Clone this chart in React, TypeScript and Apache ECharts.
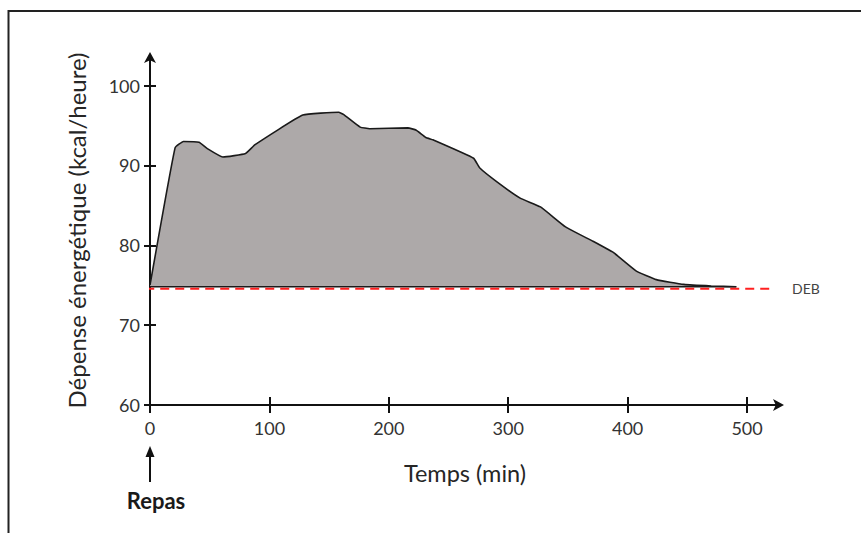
import React, { useEffect, useRef } from "react";
import * as echarts from "echarts";

// Time (min) and energy expenditure (kcal/heure)
const TIME = [0, 21, 28, 41, 48, 61, 80, 88, 128, 158, 162, 176, 184, 216, 223, 231, 237, 271, 276, 290, 310, 327, 348, 371, 388, 407, 424, 447, 470, 491];
const ENERGY = [75.0, 92.2, 93.0, 92.9, 92.1, 91.05, 91.5, 92.6, 96.3, 96.65, 96.4, 94.8, 94.6, 94.7, 94.4, 93.5, 93.2, 90.9, 89.7, 88.0, 85.9, 84.8, 82.3, 80.5, 79.1, 76.8, 75.7, 75.1, 74.9, 74.8];
const BASELINE = 74.8;
const BASELINE_RANGE = [0, 491];
const DEB_VALUE = 74.55;
const DEB_RANGE = [-4, 521];
const X_TICKS = [0, 100, 200, 300, 400, 500];
const Y_TICKS = [60, 70, 80, 90, 100];
const X_MAX = 527.6;
const Y_MIN = 60;
const Y_MAX = 103.7;

const FONT = "Lato";

export default function App() {
  const ref = useRef<HTMLDivElement>(null);
  useEffect(() => {
    if (!ref.current) return;
    const chart = echarts.init(ref.current, null, { renderer: "svg" });
    const data = TIME.map((t, i) => [t, ENERGY[i]]);
    const xCommon = {
      type: "value",
      min: 0,
      max: X_MAX,
      position: "bottom",
      splitLine: { show: false },
    };
    const yCommon = {
      type: "value",
      min: Y_MIN,
      max: Y_MAX,
      position: "left",
      splitLine: { show: false },
    };
    chart.setOption({
      animation: false,
      grid: { left: 150, right: 81, top: 56, bottom: 128, containLabel: false },
      xAxis: [
        {
          ...xCommon,
          name: "Temps (min)",
          nameLocation: "middle",
          nameGap: 56,
          nameTextStyle: { fontFamily: FONT, fontSize: 23.5, color: "#262626" },
          axisLine: {
            show: true,
            lineStyle: { color: "#111", width: 2 },
            symbol: ["none", "arrow"],
            symbolSize: [9, 11],
            symbolOffset: [0, 4],
          },
          axisTick: { show: true, inside: false, length: 8, lineStyle: { color: "#111", width: 2 }, customValues: X_TICKS },
          axisLabel: { show: true, margin: 14, fontFamily: FONT, fontSize: 18, color: "#333", customValues: X_TICKS },
        },
        {
          ...xCommon,
          axisLine: { show: false },
          axisTick: { show: true, inside: true, length: 8, lineStyle: { color: "#111", width: 2 }, customValues: X_TICKS },
          axisLabel: { show: false },
        },
      ],
      yAxis: [
        {
          ...yCommon,
          name: "Dépense énergétique (kcal/heure)",
          nameLocation: "middle",
          nameGap: 62,
          nameTextStyle: { fontFamily: FONT, fontSize: 24, color: "#262626" },
          axisLine: {
            show: true,
            lineStyle: { color: "#111", width: 2 },
            symbol: ["none", "arrow"],
            symbolSize: [9, 11],
            symbolOffset: [0, 4],
          },
          axisTick: { show: true, inside: false, length: 6, lineStyle: { color: "#111", width: 2 }, customValues: Y_TICKS },
          axisLabel: { show: true, margin: 10, fontFamily: FONT, fontSize: 18, color: "#333", customValues: Y_TICKS },
        },
        {
          ...yCommon,
          axisLine: { show: false },
          axisTick: { show: true, inside: true, length: 6, lineStyle: { color: "#111", width: 2 }, customValues: Y_TICKS },
          axisLabel: { show: false },
        },
      ],
      series: [
        {
          type: "line",
          name: "Dépense",
          data,
          smooth: 0.12,
          showSymbol: false,
          symbol: "none",
          lineStyle: { color: "#1a1a1a", width: 1.6 },
          areaStyle: { color: "#ADA9A9", opacity: 1, origin: BASELINE },
          z: 2,
        },
        {
          type: "line",
          name: "base",
          data: BASELINE_RANGE.map((t) => [t, BASELINE]),
          showSymbol: false,
          symbol: "none",
          lineStyle: { color: "#1a1a1a", width: 1.6 },
          z: 3,
        },
        {
          type: "line",
          name: "DEB",
          data: DEB_RANGE.map((t) => [t, DEB_VALUE]),
          showSymbol: false,
          symbol: "none",
          clip: false,
          lineStyle: { color: "#FF2020", width: 2, type: [9, 6] },
          endLabel: {
            show: true,
            formatter: "DEB",
            distance: 20,
            fontFamily: FONT,
            fontSize: 14,
            color: "#444",
          },
          z: 4,
        },
      ],
      graphic: [
        {
          type: "rect",
          shape: { x: 8.5, y: 11, width: 1000, height: 700 },
          style: { fill: "none", stroke: "#222", lineWidth: 2 },
          silent: true,
        },
        {
          type: "line",
          shape: { x1: 150, y1: 482, x2: 150, y2: 454 },
          style: { stroke: "#111", lineWidth: 2 },
        },
        {
          type: "polygon",
          shape: { points: [[150, 446], [145.5, 457], [154.5, 457]] },
          style: { fill: "#111" },
        },
        {
          type: "text",
          x: 156,
          y: 500,
          style: {
            text: "Repas",
            fontFamily: FONT,
            fontSize: 22,
            fontWeight: "bold",
            fill: "#1a1a1a",
            align: "center",
            verticalAlign: "middle",
          },
        },
      ],
    });
    return () => chart.dispose();
  }, []);
  return (
    <div
      ref={ref}
      style={{ position: "absolute", left: 0, top: 0, width: 861, height: 533, background: "#fff" }}
    />
  );
}
